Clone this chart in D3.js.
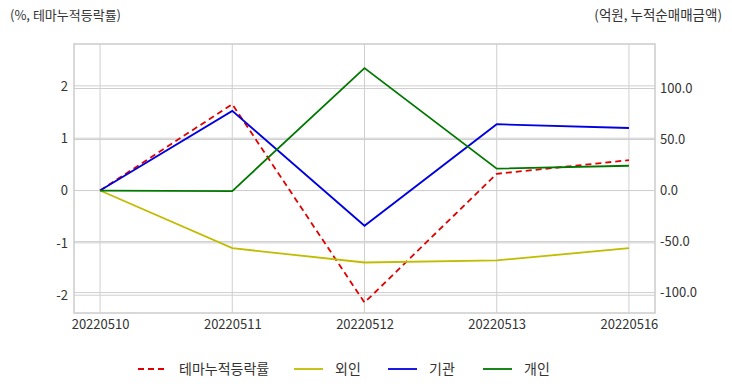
<!DOCTYPE html>
<html>
<head>
  <meta charset="UTF-8">
  <style>
    body { margin: 0; background: #fff; }
    svg text { font-family: "Noto Sans CJK KR", "Noto Sans", sans-serif; fill: #333; }
  </style>
</head>
<body>
<svg></svg>
<script src="https://d3js.org/d3.v7.min.js"></script>
<script>

let width = 732, height = 392;

// data
const dates = ["20220510", "20220511", "20220512", "20220513", "20220516"];
const themeRate = [0, 1.65, -2.14, 0.32, 0.58];      // %, left axis
const foreign = [0, -56.5, -70.5, -68.5, -56.5];     // 억원, right axis
const institution = [0, 78, -34.5, 65, 61.3];
const individual = [0, -0.5, 120, 21.4, 24.3];

const leftTicks = [-2, -1, 0, 1, 2];
const rightTicks = [-100, -50, 0, 50, 100];

const names = ["테마누적등락률", "외인", "기관", "개인"];
const colors = ["#e00000", "#c0bc00", "#0000e0", "#007800"];

let svg = d3.select("svg")
    .attr("width", width)
    .attr("height", height);

// plot box
const box = {left: 74, right: 655, top: 44, bottom: 313};

let x = d3.scalePoint()
    .domain(dates)
    .range([box.left, box.right])
    .padding(0.197);

let yL = d3.scaleLinear()
    .domain([-2.34, 2.80])
    .range([box.bottom, box.top]);

let yR = d3.scaleLinear()
    .domain([-120, 143.6])
    .range([box.bottom, box.top]);

// grid
let grid = svg.append("g").attr("stroke", "#cfcfcf").attr("stroke-width", 1);
grid.selectAll(".vx")
    .data(dates)
    .enter()
    .append("line")
    .attr("x1", d => x(d)).attr("x2", d => x(d))
    .attr("y1", box.top).attr("y2", box.bottom);
grid.selectAll(".hl")
    .data(leftTicks)
    .enter()
    .append("line")
    .attr("x1", box.left).attr("x2", box.right)
    .attr("y1", d => yL(d)).attr("y2", d => yL(d));
grid.selectAll(".hr")
    .data(rightTicks)
    .enter()
    .append("line")
    .attr("x1", box.left).attr("x2", box.right)
    .attr("y1", d => yR(d)).attr("y2", d => yR(d));

// frame
svg.append("rect")
    .attr("x", box.left).attr("y", box.top)
    .attr("width", box.right - box.left)
    .attr("height", box.bottom - box.top)
    .attr("fill", "none")
    .attr("stroke", "#cccccc")
    .attr("stroke-width", 1.5);

// axes (labels only), plain hyphen for minus like the original
let fmtL = d => d3.format("d")(d).replace("−", "-");
let fmtR = d => d3.format(".1f")(d).replace("−", "-");

let axL = svg.append("g")
    .attr("transform", "translate(" + box.left + ",0)")
    .call(d3.axisLeft(yL).tickValues(leftTicks).tickSize(0).tickPadding(6).tickFormat(fmtL));
let axR = svg.append("g")
    .attr("transform", "translate(" + box.right + ",0)")
    .call(d3.axisRight(yR).tickValues(rightTicks).tickSize(0).tickPadding(5).tickFormat(fmtR));
let axX = svg.append("g")
    .attr("transform", "translate(0," + box.bottom + ")")
    .call(d3.axisBottom(x).tickSize(0).tickPadding(7));
[axL, axR, axX].forEach(a => {
    a.select(".domain").remove();
    a.selectAll("text").attr("font-size", 13).attr("fill", "#333");
});

// lines
let lineL = d3.line().x((d, i) => x(dates[i])).y(d => yL(d));
let lineR = d3.line().x((d, i) => x(dates[i])).y(d => yR(d));

svg.append("path")
    .datum(themeRate)
    .attr("d", lineL)
    .attr("fill", "none")
    .attr("stroke", colors[0])
    .attr("stroke-width", 1.8)
    .attr("stroke-dasharray", "6,4");

[foreign, institution, individual].forEach((s, i) => {
    svg.append("path")
        .datum(s)
        .attr("d", lineR)
        .attr("fill", "none")
        .attr("stroke", colors[i + 1])
        .attr("stroke-width", 1.8);
});

// axis titles
svg.append("text")
    .attr("x", 10).attr("y", 20)
    .attr("font-size", 13)
    .text("(%, 테마누적등락률)");
svg.append("text")
    .attr("x", 722).attr("y", 20)
    .attr("font-size", 13.5)
    .attr("text-anchor", "end")
    .text("(억원, 누적순매매금액)");

// legend
const legendX = [138, 294, 388, 483];
let lg = svg.append("g");
names.forEach((n, i) => {
    lg.append("line")
        .attr("x1", legendX[i]).attr("x2", legendX[i] + 29)
        .attr("y1", 369).attr("y2", 369)
        .attr("stroke", colors[i])
        .attr("stroke-width", 1.8)
        .attr("stroke-dasharray", i == 0 ? "6,4" : null);
    lg.append("text")
        .attr("x", legendX[i] + 41).attr("y", 374)
        .attr("font-size", 14)
        .text(n);
});

</script>
</body>
</html>
